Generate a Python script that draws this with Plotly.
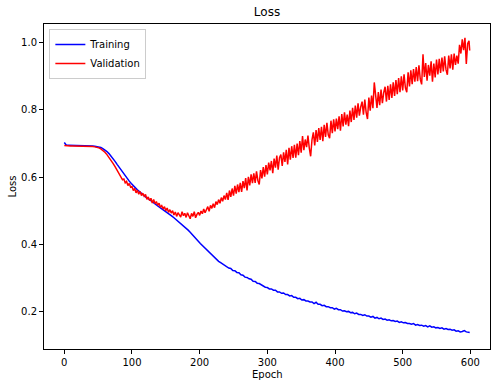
import plotly.graph_objects as go

train_epochs = list(range(0, 600, 3)) + [599]
val_epochs = list(range(0, 80, 3)) + list(range(80, 600, 2)) + [599]

training = [
    0.703, 0.695, 0.695, 0.695, 0.695, 0.695, 0.694, 0.694, 0.694, 0.694,
    0.694, 0.694, 0.694, 0.693, 0.693, 0.692, 0.691, 0.690, 0.688, 0.685,
    0.681, 0.676, 0.670, 0.663, 0.655, 0.647, 0.638, 0.629, 0.620, 0.611,
    0.603, 0.595, 0.588, 0.581, 0.574, 0.568, 0.562, 0.557, 0.551, 0.546,
    0.541, 0.537, 0.532, 0.528, 0.523, 0.519, 0.514, 0.510, 0.506, 0.501,
    0.497, 0.493, 0.488, 0.484, 0.479, 0.474, 0.469, 0.464, 0.459, 0.454,
    0.447, 0.442, 0.436, 0.430, 0.422, 0.415, 0.409, 0.402, 0.396, 0.390,
    0.384, 0.377, 0.370, 0.364, 0.361, 0.354, 0.349, 0.345, 0.341, 0.336,
    0.333, 0.329, 0.328, 0.322, 0.321, 0.316, 0.315, 0.309, 0.308, 0.302,
    0.301, 0.297, 0.296, 0.290, 0.289, 0.284, 0.283, 0.279, 0.277, 0.272,
    0.271, 0.267, 0.267, 0.263, 0.263, 0.258, 0.258, 0.254, 0.255, 0.250,
    0.250, 0.246, 0.247, 0.242, 0.242, 0.238, 0.239, 0.234, 0.235, 0.231,
    0.231, 0.228, 0.228, 0.223, 0.227, 0.221, 0.221, 0.217, 0.218, 0.214,
    0.214, 0.211, 0.211, 0.207, 0.209, 0.205, 0.205, 0.201, 0.202, 0.199,
    0.200, 0.196, 0.197, 0.193, 0.195, 0.191, 0.191, 0.188, 0.190, 0.186,
    0.186, 0.183, 0.185, 0.180, 0.182, 0.178, 0.180, 0.176, 0.177, 0.174,
    0.175, 0.172, 0.173, 0.170, 0.171, 0.167, 0.169, 0.166, 0.167, 0.164,
    0.164, 0.162, 0.164, 0.159, 0.161, 0.158, 0.159, 0.156, 0.158, 0.154,
    0.157, 0.153, 0.154, 0.151, 0.152, 0.149, 0.151, 0.147, 0.149, 0.146,
    0.147, 0.144, 0.145, 0.141, 0.142, 0.139, 0.140, 0.143, 0.139, 0.138,
    0.137,
]

validation = [
    # epochs 0..78 (step 3)
    0.694, 0.693, 0.693, 0.693, 0.693, 0.693, 0.692, 0.692, 0.692, 0.692,
    0.692, 0.692, 0.692, 0.691, 0.691, 0.690, 0.689, 0.687, 0.684, 0.680,
    0.674, 0.667, 0.659, 0.650, 0.641, 0.631, 0.620,
    # epochs 80..598 (step 2)
    0.612, 0.604, 0.601, 0.592, 0.594, 0.583, 0.587, 0.575, 0.581, 0.570,
    0.572, 0.560, 0.566, 0.553, 0.561, 0.549, 0.557, 0.545, 0.552, 0.543,
    0.548, 0.534, 0.541, 0.530, 0.537, 0.523, 0.533, 0.521, 0.527, 0.516,
    0.522, 0.510, 0.515, 0.505, 0.512, 0.500, 0.508, 0.495, 0.503, 0.493,
    0.500, 0.487, 0.496, 0.483, 0.494, 0.489, 0.481, 0.497, 0.485, 0.492,
    0.480, 0.494, 0.484, 0.476, 0.492, 0.483, 0.497, 0.479, 0.489, 0.495,
    0.486, 0.499, 0.491, 0.505, 0.494, 0.502, 0.512, 0.498, 0.516, 0.507,
    0.521, 0.509, 0.527, 0.518, 0.533, 0.522, 0.539, 0.528, 0.545, 0.533,
    0.553, 0.532, 0.560, 0.541, 0.566, 0.545, 0.574, 0.551, 0.578, 0.555,
    0.583, 0.556, 0.588, 0.567, 0.597, 0.560, 0.601, 0.575, 0.608, 0.582,
    0.611, 0.583, 0.617, 0.590, 0.578, 0.621, 0.596, 0.630, 0.601, 0.636,
    0.608, 0.643, 0.620, 0.648, 0.612, 0.655, 0.628, 0.664, 0.622, 0.658,
    0.667, 0.633, 0.674, 0.645, 0.681, 0.638, 0.687, 0.652, 0.692, 0.657,
    0.696, 0.658, 0.700, 0.665, 0.707, 0.673, 0.722, 0.680, 0.712, 0.689,
    0.724, 0.686, 0.662, 0.712, 0.733, 0.694, 0.740, 0.705, 0.746, 0.711,
    0.750, 0.707, 0.756, 0.720, 0.762, 0.726, 0.716, 0.768, 0.731, 0.772,
    0.736, 0.774, 0.743, 0.781, 0.738, 0.788, 0.751, 0.793, 0.756, 0.786,
    0.752, 0.798, 0.764, 0.806, 0.770, 0.813, 0.777, 0.820, 0.783, 0.809,
    0.825, 0.786, 0.831, 0.793, 0.773, 0.837, 0.798, 0.843, 0.805, 0.882,
    0.846, 0.806, 0.853, 0.814, 0.861, 0.820, 0.852, 0.869, 0.825, 0.872,
    0.830, 0.876, 0.836, 0.882, 0.842, 0.889, 0.847, 0.895, 0.853, 0.900,
    0.858, 0.906, 0.866, 0.853, 0.912, 0.870, 0.918, 0.877, 0.922, 0.884,
    0.928, 0.886, 0.933, 0.891, 0.876, 0.966, 0.898, 0.940, 0.887, 0.934,
    0.902, 0.945, 0.884, 0.938, 0.897, 0.950, 0.906, 0.952, 0.910, 0.956,
    0.915, 0.960, 0.920, 0.905, 0.962, 0.924, 0.966, 0.920, 0.968, 0.934,
    0.962, 0.938, 0.994, 0.968, 1.010, 0.978, 1.015, 0.937, 0.998, 1.006,
    # epoch 599
    0.977,
]

x_ticks = [0, 100, 200, 300, 400, 500, 600]
y_ticks = [0.2, 0.4, 0.6, 0.8, 1.0]
y_tick_labels = ["0.2", "0.4", "0.6", "0.8", "1.0"]

FONT = "DejaVu Sans"
W, H = 501, 387
ML, MR, MT, MB = 44, 11, 24, 38

fig = go.Figure()
fig.add_trace(go.Scatter(x=train_epochs, y=training, mode="lines", name="Training",
                         line=dict(color="#0000ff", width=1.5)))
fig.add_trace(go.Scatter(x=val_epochs, y=validation, mode="lines", name="Validation",
                         line=dict(color="#ff0000", width=1.5)))

axis_common = dict(showline=True, linecolor="black", linewidth=1, mirror=True,
                   ticks="outside", ticklen=4, tickwidth=1, tickcolor="black",
                   showgrid=False, zeroline=False, automargin=False,
                   tickfont=dict(family=FONT, size=10, color="black"))

fig.update_layout(
    width=W, height=H,
    margin=dict(l=ML, r=MR, t=MT, b=MB),
    paper_bgcolor="white", plot_bgcolor="white",
    font=dict(family=FONT, size=10, color="black"),
    title=dict(text="Loss", x=(ML + (W - ML - MR) / 2) / W, xanchor="center",
               xref="container", yref="container", y=1 - 12 / H, yanchor="middle",
               font=dict(family=FONT, size=12, color="black")),
    xaxis=dict(range=[-30, 629], tickvals=x_ticks, **axis_common),
    yaxis=dict(range=[0.088, 1.056], tickvals=y_ticks, ticktext=y_tick_labels,
               **axis_common),
    legend=dict(x=0.012, y=0.985, xanchor="left", yanchor="top",
                bgcolor="rgba(255,255,255,0.8)", bordercolor="#cccccc", borderwidth=1,
                font=dict(family=FONT, size=10), itemwidth=30,
                tracegroupgap=0),
    showlegend=True,
    annotations=[
        dict(text="Epoch", xref="paper", yref="paper", x=0.5, y=-(374 - (H - MB)) / (H - MT - MB),
             xanchor="center", yanchor="middle", showarrow=False,
             font=dict(family=FONT, size=10, color="black")),
        dict(text="Loss", xref="paper", yref="paper", x=-(ML - 12) / (W - ML - MR), y=0.5,
             xanchor="center", yanchor="middle", showarrow=False, textangle=-90,
             font=dict(family=FONT, size=10, color="black")),
    ],
)

fig.write_html("out.html", config={"displayModeBar": False},
               post_script="document.body.style.margin='0px';document.body.style.padding='0px';")
